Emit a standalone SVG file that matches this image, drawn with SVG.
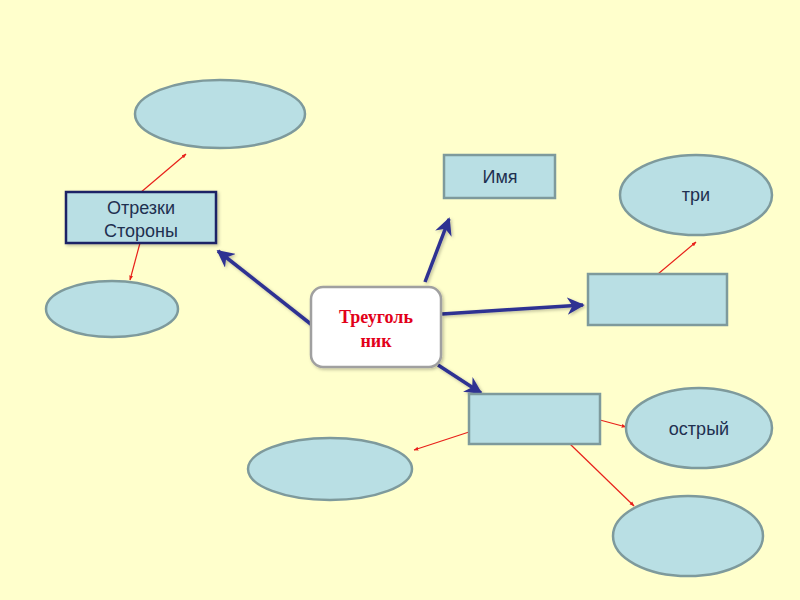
<svg xmlns="http://www.w3.org/2000/svg" width="800" height="600" viewBox="0 0 800 600">
<defs>
<style>
.ell{fill:#B9DFE4;stroke:#7E9A9C;stroke-width:2.5}
.box{fill:#B9DFE4;stroke:#7E9A9C;stroke-width:2.5}
.lbl{font-family:"Liberation Sans",Arial,sans-serif;font-size:18px;fill:#1F3050;text-anchor:middle}
.blue{stroke:#2E3192;stroke-width:3.5;fill:none;marker-end:url(#ab)}
.red{stroke:#E8201A;stroke-width:1.2;fill:none;marker-end:url(#ar)}
.ctr{font-family:"Liberation Serif","Times New Roman",serif;font-size:18px;font-weight:bold;fill:#E2001A;text-anchor:middle}
</style>
<marker id="ab" viewBox="0 0 10 10" refX="9" refY="5" markerWidth="5" markerHeight="5" orient="auto" markerUnits="strokeWidth">
<path d="M0,0 L10,5 L0,10 L3,5 Z" fill="#2E3192"/>
</marker>
<marker id="ar" viewBox="0 0 10 10" refX="9" refY="5" markerWidth="4" markerHeight="4" orient="auto" markerUnits="strokeWidth">
<path d="M0,1 L10,5 L0,9 Z" fill="#E8201A"/>
</marker>
<filter id="sh" x="-20%" y="-20%" width="140%" height="140%">
<feDropShadow dx="1.5" dy="1.5" stdDeviation="1.5" flood-color="#000" flood-opacity="0.25"/>
</filter>
</defs>
<rect width="800" height="600" fill="#FFFFCC"/>
<g id="connectors">
<g filter="url(#sh)">
<line class="blue" x1="312" y1="325" x2="218" y2="251"/>
<line class="blue" x1="425" y1="282" x2="449" y2="219"/>
<line class="blue" x1="442" y1="314" x2="583" y2="305"/>
<line class="blue" x1="438" y1="365" x2="481" y2="393"/>
</g>
<line class="red" x1="140" y1="193" x2="186" y2="154"/>
<line class="red" x1="140" y1="243" x2="130" y2="280"/>
<line class="red" x1="658" y1="274" x2="696" y2="242"/>
<line class="red" x1="469" y1="432" x2="414" y2="450"/>
<line class="red" x1="600" y1="420" x2="626" y2="427"/>
<line class="red" x1="570" y1="444" x2="634" y2="506"/>
</g>
<g id="n-top-left"><ellipse class="ell" cx="220" cy="114" rx="85" ry="34"/></g>
<g id="n-otrezki">
<rect x="66" y="192" width="150" height="51" fill="#B9DFE4" stroke="#1F2266" stroke-width="2.5" filter="url(#sh)"/>
<text class="lbl" x="141" y="214">Отрезки</text>
<text class="lbl" x="141" y="237">Стороны</text>
</g>
<g id="n-left"><ellipse class="ell" cx="112" cy="309" rx="66" ry="28"/></g>
<g id="n-center">
<rect x="311" y="287" width="130" height="80" rx="12" fill="#FFFFFF" stroke="#A0A0A0" stroke-width="2.5" filter="url(#sh)"/>
<text class="ctr" x="376" y="323">Треуголь</text>
<text class="ctr" x="376" y="347">ник</text>
</g>
<g id="n-imya">
<rect class="box" x="444" y="155" width="111" height="43"/>
<text class="lbl" x="500" y="183">Имя</text>
</g>
<g id="n-tri">
<ellipse class="ell" cx="696" cy="195" rx="76" ry="40"/>
<text class="lbl" x="696" y="201">три</text>
</g>
<g id="n-right"><rect class="box" x="588" y="274" width="139" height="51"/></g>
<g id="n-bottom"><rect class="box" x="469" y="394" width="131" height="50"/></g>
<g id="n-ostryi">
<ellipse class="ell" cx="699" cy="428" rx="73" ry="40"/>
<text class="lbl" x="699" y="435">острый</text>
</g>
<g id="n-bottom-right"><ellipse class="ell" cx="688" cy="536" rx="75" ry="40"/></g>
<g id="n-bottom-left"><ellipse class="ell" cx="330" cy="469" rx="82" ry="31"/></g>
</svg>
